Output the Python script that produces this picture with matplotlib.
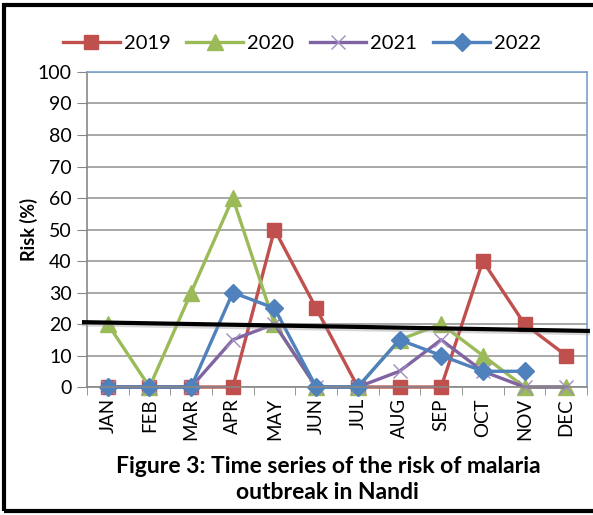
import numpy as np
import matplotlib.pyplot as plt
from matplotlib.patches import Rectangle

plt.rcParams['font.family'] = ['Lato', 'DejaVu Sans']

months = ['JAN', 'FEB', 'MAR', 'APR', 'MAY', 'JUN', 'JUL', 'AUG', 'SEP', 'OCT', 'NOV', 'DEC']
risk_2019 = [0, 0, 0, 0, 50, 25, 0, 0, 0, 40, 20, 10]
risk_2020 = [20, 0, 30, 60, 20, 0, 0, 15, 20, 10, 0, 0]
risk_2021 = [0, 0, 0, 15, 20, 0, 0, 5, 15, 5, 0, 0]
risk_2022 = [0, 0, 0, 30, 25, 0, 0, 15, 10, 5, 5, np.nan]

# hand drawn trend line (month index, risk)
trend_x = [-0.62, 11.57]
trend_y = [20.6, 17.8]

x = np.arange(len(months))

fig = plt.figure(figsize=(5.93, 5.15), dpi=100)
ax = fig.add_axes([0.1467, 0.2485, 0.8432, 0.6117])

lw = 2.4
ax.plot(x, risk_2019, color='#C0504D', lw=lw, marker='s', ms=10, label='2019',
        clip_on=False)
ax.plot(x, risk_2020, color='#9BBB59', lw=lw, marker='^', ms=12, label='2020',
        clip_on=False)
ax.plot(x, risk_2021, color='#8064A2', lw=lw, marker='x', ms=10, mew=1.0,
        mec='#A08CC0', label='2021', clip_on=False)
ax.plot(x, risk_2022, color='#4F81BD', lw=lw, marker='D', ms=9, label='2022',
        clip_on=False)

# trend line with a soft shadow
ax.plot(trend_x, [v - 0.5 for v in trend_y], color='#999999', lw=4, alpha=0.4,
        clip_on=False, zorder=5, solid_capstyle='butt')
ax.plot(trend_x, trend_y, color='black', lw=3, clip_on=False, zorder=6,
        solid_capstyle='butt')

ax.set_xlim(-0.5, 11.5)
ax.set_ylim(0, 100)
ax.set_yticks(range(0, 101, 10))
ax.set_xticks(x)
ax.set_xticklabels(months, rotation=90, fontsize=13.5)
ax.tick_params(axis='x', length=0, pad=8)
ax.set_xticks(np.arange(-0.5, 12, 1), minor=True)
ax.tick_params(axis='x', which='minor', length=6, color='#888888', direction='out')
ax.tick_params(axis='y', labelsize=14, length=7, color='#888888', pad=4)
ax.grid(axis='y', color='#999999', lw=1.2)
ax.set_axisbelow(True)

for s in ['left', 'bottom']:
    ax.spines[s].set_color('#888888')
    ax.spines[s].set_linewidth(1.2)
for s in ['top', 'right']:
    ax.spines[s].set_color('#7DA0CF')
    ax.spines[s].set_linewidth(1.2)

ax.set_ylabel('Risk (%)', fontsize=13, fontweight='bold', labelpad=0)

ax.legend(loc='lower center', bbox_to_anchor=(0.43, 1.02), ncol=4, frameon=False,
          fontsize=14.5, handlelength=2.8, columnspacing=0.8, handletextpad=0.2,
          borderaxespad=0.3)

fig.text(0.553, 0.069, 'Figure 3: Time series of the risk of malaria\noutbreak in Nandi',
         ha='center', va='center', fontsize=16.5, fontweight='bold', linespacing=1.25)

# border of the figure panel (right side falls outside the image)
fig.patches.append(Rectangle((0.007, 0.008), 1.2, 0.982, transform=fig.transFigure,
                             fill=False, edgecolor='black', lw=3))

fig.savefig('out.png', dpi=100)
